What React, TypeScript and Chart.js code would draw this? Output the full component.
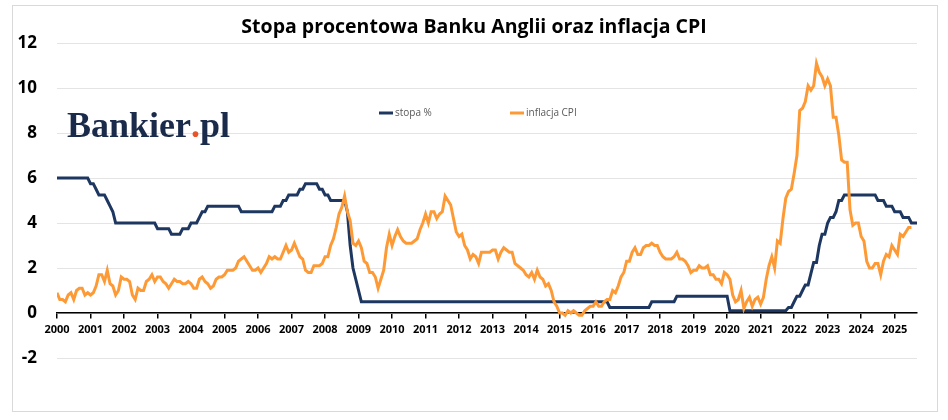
import React, { useEffect, useRef } from 'react';
import Chart from 'chart.js/auto';

const TITLE = 'Stopa procentowa Banku Anglii oraz inflacja CPI';
const SERIES_NAMES = ['stopa %', 'inflacja CPI'];
const SERIES_COLORS = ['#1d3760', '#fd9a36'];
const START_YEAR = 2000;
const Y_MIN = -2;
const Y_MAX = 12;
const Y_STEP = 2;

// Bank Rate, %, one value per month from Jan 2000
const stopa = [
  6, 6, 6, 6, 6, 6, 6, 6, 6, 6, 6, 6,
  5.75, 5.75, 5.5, 5.25, 5.25, 5.25, 5, 4.75, 4.5, 4, 4, 4,
  4, 4, 4, 4, 4, 4, 4, 4, 4, 4, 4, 4,
  3.75, 3.75, 3.75, 3.75, 3.75, 3.5, 3.5, 3.5, 3.5, 3.75, 3.75, 3.75,
  4, 4, 4, 4.25, 4.5, 4.5, 4.75, 4.75, 4.75, 4.75, 4.75, 4.75,
  4.75, 4.75, 4.75, 4.75, 4.75, 4.75, 4.5, 4.5, 4.5, 4.5, 4.5, 4.5,
  4.5, 4.5, 4.5, 4.5, 4.5, 4.5, 4.75, 4.75, 4.75, 5, 5, 5.25,
  5.25, 5.25, 5.25, 5.5, 5.5, 5.75, 5.75, 5.75, 5.75, 5.75, 5.5, 5.5,
  5.25, 5.25, 5, 5, 5, 5, 5, 5, 4.5, 3, 2, 1.5,
  1, 0.5, 0.5, 0.5, 0.5, 0.5, 0.5, 0.5, 0.5, 0.5, 0.5, 0.5,
  0.5, 0.5, 0.5, 0.5, 0.5, 0.5, 0.5, 0.5, 0.5, 0.5, 0.5, 0.5,
  0.5, 0.5, 0.5, 0.5, 0.5, 0.5, 0.5, 0.5, 0.5, 0.5, 0.5, 0.5,
  0.5, 0.5, 0.5, 0.5, 0.5, 0.5, 0.5, 0.5, 0.5, 0.5, 0.5, 0.5,
  0.5, 0.5, 0.5, 0.5, 0.5, 0.5, 0.5, 0.5, 0.5, 0.5, 0.5, 0.5,
  0.5, 0.5, 0.5, 0.5, 0.5, 0.5, 0.5, 0.5, 0.5, 0.5, 0.5, 0.5,
  0.5, 0.5, 0.5, 0.5, 0.5, 0.5, 0.5, 0.5, 0.5, 0.5, 0.5, 0.5,
  0.5, 0.5, 0.5, 0.5, 0.5, 0.5, 0.25, 0.25, 0.25, 0.25, 0.25, 0.25,
  0.25, 0.25, 0.25, 0.25, 0.25, 0.25, 0.25, 0.25, 0.25, 0.5, 0.5, 0.5,
  0.5, 0.5, 0.5, 0.5, 0.5, 0.5, 0.75, 0.75, 0.75, 0.75, 0.75, 0.75,
  0.75, 0.75, 0.75, 0.75, 0.75, 0.75, 0.75, 0.75, 0.75, 0.75, 0.75, 0.75,
  0.75, 0.1, 0.1, 0.1, 0.1, 0.1, 0.1, 0.1, 0.1, 0.1, 0.1, 0.1,
  0.1, 0.1, 0.1, 0.1, 0.1, 0.1, 0.1, 0.1, 0.1, 0.1, 0.25, 0.25,
  0.5, 0.75, 0.75, 1, 1.25, 1.25, 1.75, 2.25, 2.25, 3, 3.5, 3.5,
  4, 4.25, 4.25, 4.5, 5, 5, 5.25, 5.25, 5.25, 5.25, 5.25, 5.25,
  5.25, 5.25, 5.25, 5.25, 5.25, 5.25, 5, 5, 5, 4.75, 4.75, 4.75,
  4.5, 4.5, 4.5, 4.25, 4.25, 4.25, 4, 4, 4,
];

// CPI, % r/r, one value per month from Jan 2000
const cpi = [
  0.9, 0.6, 0.6, 0.5, 0.8, 0.9, 0.6, 1.0, 1.1, 1.1, 0.8, 0.9,
  0.8, 0.9, 1.2, 1.7, 1.7, 1.4, 1.9, 1.3, 1.2, 0.8, 1.0, 1.6,
  1.5, 1.5, 1.4, 0.8, 0.6, 1.1, 1.0, 1.0, 1.4, 1.5, 1.7, 1.4,
  1.6, 1.6, 1.4, 1.3, 1.1, 1.3, 1.5, 1.4, 1.4, 1.3, 1.3, 1.4,
  1.3, 1.1, 1.1, 1.5, 1.6, 1.4, 1.3, 1.1, 1.2, 1.5, 1.6, 1.6,
  1.7, 1.9, 1.9, 1.9, 2.0, 2.3, 2.4, 2.5, 2.3, 2.1, 1.9, 1.9,
  2.0, 1.8, 2.0, 2.2, 2.5, 2.4, 2.5, 2.4, 2.4, 2.7, 3.0, 2.7,
  2.8, 3.1, 2.8, 2.5, 2.4, 1.9, 1.8, 1.8, 2.1, 2.1, 2.1, 2.2,
  2.5, 2.5, 3.0, 3.3, 3.8, 4.4, 4.7, 5.2, 4.5, 4.1, 3.1, 3.0,
  3.2, 2.9, 2.3, 2.2, 1.8, 1.8, 1.6, 1.1, 1.5, 1.9, 2.9, 3.5,
  3.0, 3.4, 3.7, 3.4, 3.2, 3.1, 3.1, 3.1, 3.2, 3.3, 3.7, 4.0,
  4.4, 4.0, 4.5, 4.5, 4.2, 4.4, 4.5, 5.2, 5.0, 4.8, 4.2, 3.6,
  3.4, 3.5, 3.0, 2.8, 2.4, 2.6, 2.5, 2.2, 2.7, 2.7, 2.7, 2.7,
  2.8, 2.8, 2.4, 2.7, 2.9, 2.8, 2.7, 2.7, 2.2, 2.1, 2.0, 1.9,
  1.7, 1.6, 1.8, 1.5, 1.9, 1.6, 1.5, 1.2, 1.3, 1.0, 0.5, 0.3,
  0.0, 0.0, -0.1, 0.1, 0.0, 0.1, 0.0, -0.1, -0.1, 0.1, 0.2, 0.3,
  0.3, 0.5, 0.3, 0.3, 0.5, 0.6, 0.6, 1.0, 0.9, 1.2, 1.6, 1.8,
  2.3, 2.3, 2.7, 2.9, 2.6, 2.6, 2.9, 3.0, 3.0, 3.1, 3.0, 3.0,
  2.7, 2.5, 2.4, 2.4, 2.4, 2.5, 2.7, 2.4, 2.4, 2.3, 2.1, 1.8,
  1.9, 1.9, 2.1, 2.0, 2.0, 2.1, 1.7, 1.7, 1.5, 1.5, 1.3, 1.8,
  1.7, 1.5, 0.8, 0.5, 0.6, 1.0, 0.2, 0.5, 0.7, 0.3, 0.6, 0.7,
  0.4, 0.7, 1.5, 2.1, 2.5, 2.0, 3.2, 3.1, 4.2, 5.1, 5.4, 5.5,
  6.2, 7.0, 9.0, 9.1, 9.4, 10.1, 9.9, 10.1, 11.1, 10.7, 10.5, 10.1,
  10.4, 10.1, 8.7, 8.7, 7.9, 6.8, 6.7, 6.7, 4.6, 3.9, 4.0, 4.0,
  3.4, 3.2, 2.3, 2.0, 2.0, 2.2, 2.2, 1.7, 2.3, 2.6, 2.5, 3.0,
  2.8, 2.6, 3.5, 3.4, 3.6, 3.8, 3.8,
];

const toPoints = (values: number[]) =>
  values.map((v, i) => ({ x: START_YEAR + i / 12, y: v }));

// frame, title, custom legend and the Bankier.pl logo
const decorPlugin = {
  id: 'decor',
  beforeDraw(chart: Chart) {
    const ctx = chart.ctx;
    ctx.save();
    ctx.strokeStyle = '#d9d9d9';
    ctx.lineWidth = 1;
    ctx.strokeRect(12.5, 5.5, 925, 406);
    ctx.restore();
  },
  afterDraw(chart: Chart) {
    const ctx = chart.ctx;
    ctx.save();

    ctx.fillStyle = '#000';
    ctx.font = 'bold 19.5px "Open Sans"';
    ctx.textAlign = 'center';
    ctx.textBaseline = 'middle';
    ctx.fillText(TITLE, chart.width / 2, 27.7);

    const legendX = [379, 510];
    chart.data.datasets.forEach((ds: any, i: number) => {
      const x = legendX[i];
      const y = 113;
      ctx.strokeStyle = ds.borderColor;
      ctx.lineWidth = 3;
      ctx.beginPath();
      ctx.moveTo(x, y);
      ctx.lineTo(x + 14, y);
      ctx.stroke();
      ctx.fillStyle = '#595959';
      ctx.font = '10px "Open Sans"';
      ctx.textBaseline = 'middle';
      ctx.textAlign = 'left';
      ctx.fillText(ds.label, x + 16, y);
    });

    ctx.font = 'bold 36px "Liberation Serif"';
    ctx.textBaseline = 'alphabetic';
    ctx.textAlign = 'left';
    let lx = 67;
    const ly = 137;
    ctx.fillStyle = '#1a2a4a';
    ctx.fillText('Bankier', lx, ly);
    lx += ctx.measureText('Bankier').width;
    ctx.fillStyle = '#e8542a';
    ctx.fillText('.', lx, ly);
    lx += ctx.measureText('.').width;
    ctx.fillStyle = '#1a2a4a';
    ctx.fillText('pl', lx, ly);

    ctx.restore();
  },
};

const App: React.FC = () => {
  const canvasRef = useRef<HTMLCanvasElement>(null);

  useEffect(() => {
    const canvas = canvasRef.current;
    let chart: Chart | null = null;

    if (canvas) {
      chart = new Chart(canvas, {
        type: 'line',
        data: {
          datasets: [
            {
              label: SERIES_NAMES[0],
              data: toPoints(stopa),
              borderColor: SERIES_COLORS[0],
              borderWidth: 3,
              pointRadius: 0,
              order: 1,
            },
            {
              label: SERIES_NAMES[1],
              data: toPoints(cpi),
              borderColor: SERIES_COLORS[1],
              borderWidth: 3,
              pointRadius: 0,
              order: 0,
            },
          ],
        },
        options: {
          animation: false,
          responsive: true,
          maintainAspectRatio: false,
          layout: { padding: { left: 0, right: 31, top: 43, bottom: 62 } },
          plugins: {
            legend: { display: false },
            tooltip: { enabled: false },
            title: { display: false },
          },
          scales: {
            x: {
              type: 'linear',
              min: START_YEAR,
              max: START_YEAR + (stopa.length - 1) / 12,
              position: { y: 0 },
              afterFit: (scale: any) => {
                scale.height = 0;
              },
              grid: {
                display: true,
                drawOnChartArea: false,
                drawTicks: true,
                tickLength: 5,
                color: '#000',
                lineWidth: 1.5,
              },
              border: { display: true, color: '#000', width: 1.5 },
              ticks: {
                stepSize: 1,
                includeBounds: false,
                autoSkip: false,
                maxRotation: 0,
                padding: 5,
                color: '#000',
                font: { family: 'Open Sans', size: 11, weight: 'bold' },
                callback: (v: any) => String(v),
              },
            },
            y: {
              min: Y_MIN,
              max: Y_MAX,
              afterFit: (scale: any) => {
                scale.width = 57;
              },
              grid: { color: '#e4e4e4', lineWidth: 1, drawTicks: false },
              border: { display: false },
              ticks: {
                stepSize: Y_STEP,
                padding: 20,
                color: '#000',
                font: { family: 'Open Sans', size: 17, weight: 'bold' },
              },
            },
          },
        },
        plugins: [decorPlugin],
      } as any);
    }

    return () => {
      if (chart) {
        chart.destroy();
      }
    };
  }, []);

  return (
    <div style={{ position: 'absolute', left: 0, top: 0, width: 948, height: 420, background: '#fff' }}>
      <canvas ref={canvasRef}></canvas>
    </div>
  );
};

export default App;
